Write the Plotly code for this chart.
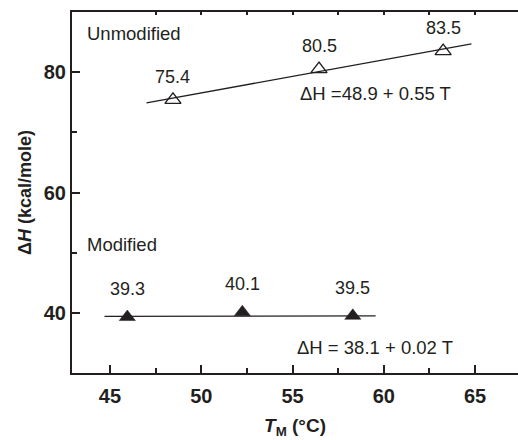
import plotly.graph_objects as go

# Data
unmod_T = [48.45, 56.45, 63.25]
unmod_H = [75.4, 80.5, 83.5]
mod_T = [45.95, 52.25, 58.3]
mod_H = [39.3, 40.1, 39.5]
unmod_fit_T = [47.0, 64.8]
unmod_fit_H = [74.9, 84.7]
mod_fit_T = [44.7, 59.55]
mod_fit_H = [39.4, 39.5]

x_ticks = [45, 50, 55, 60, 65]
y_ticks = [40, 60, 80]

INK = "#231f20"
FONT = "Liberation Sans, Arial, Helvetica, sans-serif"

fig = go.Figure()

fig.add_trace(go.Scatter(x=unmod_fit_T, y=unmod_fit_H, mode="lines",
                         line=dict(color=INK, width=1.3), showlegend=False, hoverinfo="skip"))
fig.add_trace(go.Scatter(x=mod_fit_T, y=mod_fit_H, mode="lines",
                         line=dict(color=INK, width=1.3), showlegend=False, hoverinfo="skip"))
fig.add_trace(go.Scatter(x=unmod_T, y=unmod_H, mode="markers",
                         marker=dict(symbol="triangle-up-open", size=14, color=INK,
                                     line=dict(width=1.4, color=INK)),
                         showlegend=False))
fig.add_trace(go.Scatter(x=mod_T, y=mod_H, mode="markers",
                         marker=dict(symbol="triangle-up", size=14, color=INK,
                                     line=dict(width=0.5, color=INK)),
                         showlegend=False))

annots = []
for t, h in zip(unmod_T, unmod_H):
    annots.append(dict(x=t, y=h, xref="x", yref="y", text=f"{h:.1f}", showarrow=False,
                       yshift=23, font=dict(size=18, color=INK, family=FONT)))
for t, h in zip(mod_T, mod_H):
    annots.append(dict(x=t, y=h, xref="x", yref="y", text=f"{h:.1f}", showarrow=False,
                       yshift=28, font=dict(size=18, color=INK, family=FONT)))

annots += [
    dict(x=43.63, y=86.5, xref="x", yref="y", text="Unmodified", showarrow=False,
         xanchor="left", yanchor="middle", font=dict(size=18.5, color=INK, family=FONT)),
    dict(x=43.63, y=51.33, xref="x", yref="y", text="Modified", showarrow=False,
         xanchor="left", yanchor="middle", font=dict(size=18.5, color=INK, family=FONT)),
    dict(x=55.3, y=76.5, xref="x", yref="y", text="ΔH =48.9 + 0.55 T", showarrow=False,
         xanchor="left", yanchor="middle", font=dict(size=18.5, color=INK, family=FONT)),
    dict(x=55.15, y=34.17, xref="x", yref="y", text="ΔH = 38.1 + 0.02 T", showarrow=False,
         xanchor="left", yanchor="middle", font=dict(size=18.5, color=INK, family=FONT)),
]

fig.update_layout(
    width=518, height=440,
    margin=dict(l=72, r=0, t=12, b=67),
    paper_bgcolor="white", plot_bgcolor="white",
    font=dict(family=FONT, color=INK),
    annotations=annots,
    xaxis=dict(
        range=[42.92, 67.35], tickvals=x_ticks, ticktext=[str(v) for v in x_ticks],
        ticks="inside", ticklen=8, tickwidth=2, tickcolor=INK,
        minor=dict(ticks="inside", ticklen=5, tickwidth=1.5, tickcolor=INK, dtick=2.5, tick0=45),
        showline=True, linecolor=INK, linewidth=2, showgrid=False, zeroline=False,
        tickfont=dict(size=20, family=FONT, color=INK, weight="bold"),
        ticklabelstandoff=4,
        title=dict(text="<b><i>T</i><sub>M</sub> (°C)</b>", font=dict(size=19, family=FONT, color=INK),
                   standoff=13),
    ),
    xaxis2=dict(
        overlaying="x", matches="x", side="top", showline=True, linecolor=INK, linewidth=2,
        ticks="inside", ticklen=3, tickwidth=1.5, tickcolor=INK,
        tickvals=[47.5, 50, 52.5, 55, 57.5, 60, 62.5, 65],
        showticklabels=False, showgrid=False, zeroline=False,
    ),
    yaxis=dict(
        range=[30, 90], tickvals=y_ticks, ticktext=[str(v) for v in y_ticks],
        ticks="inside", ticklen=8, tickwidth=2, tickcolor=INK,
        minor=dict(ticks="inside", ticklen=5, tickwidth=1.5, tickcolor=INK, dtick=10, tick0=30),
        showline=True, linecolor=INK, linewidth=2, showgrid=False, zeroline=False,
        tickfont=dict(size=20, family=FONT, color=INK, weight="bold"),
        title=dict(text="<b>Δ<i>H</i> (kcal/mole)</b>", font=dict(size=18, family=FONT, color=INK),
                   standoff=7),
    ),
)

# invisible trace to keep the top axis drawn
fig.add_trace(go.Scatter(x=[unmod_T[0]], y=[unmod_H[0]], xaxis="x2", mode="markers",
                         marker=dict(opacity=0), showlegend=False, hoverinfo="skip"))

fig.write_html("out.html")
